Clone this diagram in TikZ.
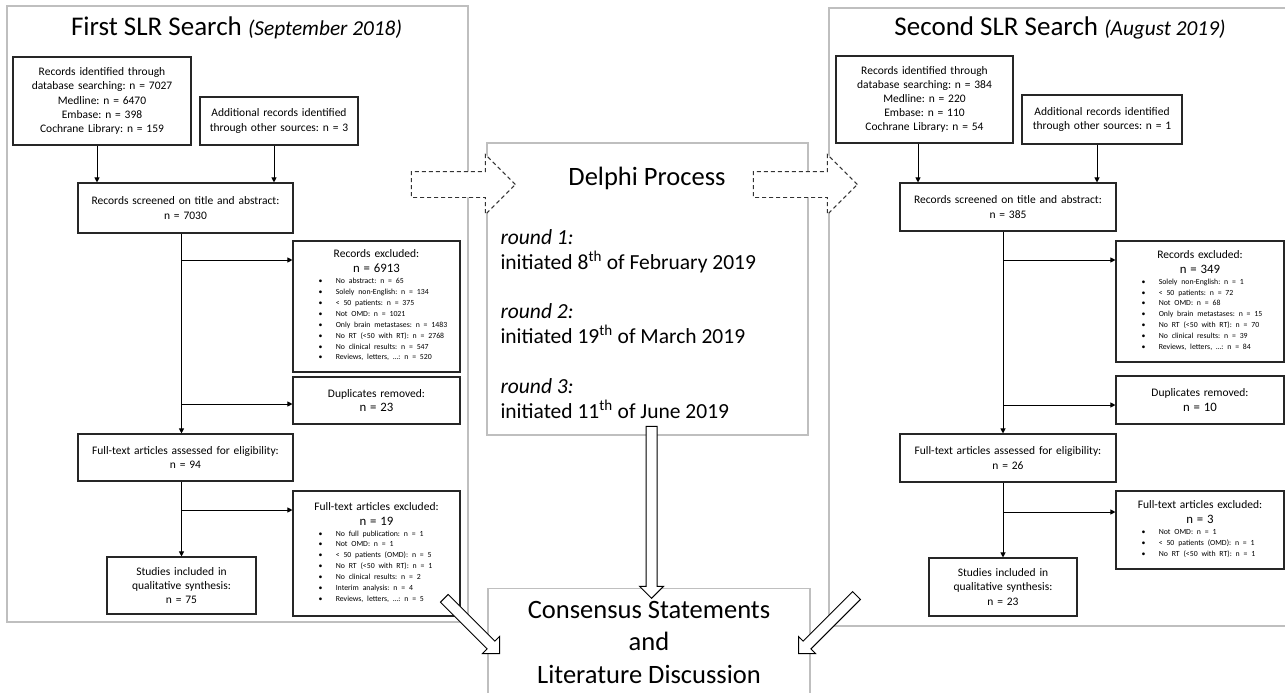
\documentclass[tikz,border=0pt]{standalone}
\usepackage{fontspec}
\setmainfont{Carlito}
\usetikzlibrary{arrows.meta,shapes.arrows}
\frenchspacing

% Font sizes
\newcommand{\boxfont}{\fontsize{11.5}{14.2}\selectfont}
\newcommand{\nfont}{\fontsize{12.8}{15}\selectfont}
\newcommand{\listfont}{\fontsize{7.8}{10.9}\selectfont}
\newcommand{\titlefont}{\fontsize{27}{30}\selectfont}
\newcommand{\datefont}{\fontsize{21.3}{25}\selectfont}
\newcommand{\bigfont}{\fontsize{26.5}{32.5}\selectfont}
\newcommand{\roundfont}{\fontsize{21.5}{25}\selectfont}

% Bullet list for the exclusion boxes
\newcommand{\exlist}[1]{\makebox[\linewidth][l]{\hspace{25.5pt}\listfont
  \begin{tabular}{@{}l@{\hspace{13.4pt}}l@{}}#1\end{tabular}}}
\newcommand{\exitem}[1]{\textbullet & #1\\}

\begin{document}
\begin{tikzpicture}[x=1pt, y=-1pt,
    box/.style={draw=black!85, line width=1.1pt, align=center, inner xsep=0pt, inner ysep=2pt, font=\boxfont},
    greybox/.style={draw=black!25, line width=1.2pt},
    flow/.style={-{Triangle[length=5pt,width=5pt]}, line width=1pt},
    blockarrow/.style={single arrow, draw=black, fill=white, line width=1pt, inner xsep=0pt, inner ysep=5pt,
      single arrow head extend=6.5pt, minimum height=#1},
    dasharrow/.style={single arrow, draw=black!80, dash pattern=on 4pt off 3pt, fill=white,
      line width=0.9pt, inner xsep=0pt, inner ysep=12.5pt, single arrow head extend=17pt,
      minimum height=104pt}]
    \useasboundingbox[fill=white] (0,0) rectangle (1285,693);

    % Panels
    \draw[greybox] (7,6) rectangle (468,622);
    \draw[greybox] (1300,8) -- (829,8) -- (829,626) -- (1300,626);
    \node[greybox, minimum width=321pt, minimum height=292pt] (delphi) at (647.5,289) {};
    \node[greybox, minimum width=322pt, minimum height=130pt, anchor=north] (cons) at (649,588) {};

    % First search
    \node[anchor=base, font=\titlefont] (title1) at (236.5,36) {First SLR Search \textit{\datefont(September 2018)}};
    \node[box, text width=178pt, minimum height=88pt] (b1) at (102,101)
        {Records identified through\\database searching: n = 7027\\Medline: n = 6470\\Embase: n = 398\\Cochrane Library: n = 159};
    \node[box, text width=158pt, minimum height=48pt] (b2) at (279,121)
        {Additional records identified\\through other sources: n = 3};
    \node[box, text width=215pt, minimum height=50pt] (b3) at (185.5,208)
        {Records screened on title and abstract:\\n = 7030};
    \node[box, text width=167pt, minimum height=131pt] (ex1) at (376.5,306.5)
        {Records excluded:\\[1pt]{\nfont n = 6913}\\[2pt]
         \exlist{\exitem{No abstract: n = 65}\exitem{Solely non-English: n = 134}\exitem{< 50 patients: n = 375}
         \exitem{Not OMD: n = 1021}\exitem{Only brain metastases: n = 1483}\exitem{No RT (<50 with RT): n = 2768}
         \exitem{No clinical results: n = 547}\exitem{Reviews, letters, …: n = 520}}};
    \node[box, text width=167pt, minimum height=47pt] (dup1) at (376.5,400.5)
        {Duplicates removed:\\{\nfont n = 23}};
    \node[box, text width=215pt, minimum height=47pt] (ft1) at (185.5,457.5)
        {Full-text articles assessed for eligibility:\\n = 94};
    \node[box, text width=167pt, minimum height=125pt] (fx1) at (376.5,553.5)
        {Full-text articles excluded:\\[1pt]{\nfont n = 19}\\[2pt]
         \exlist{\exitem{No full publication: n = 1}\exitem{Not OMD: n = 1}\exitem{< 50 patients (OMD): n = 5}
         \exitem{No RT (<50 with RT): n = 1}\exitem{No clinical results: n = 2}\exitem{Interim analysis: n = 4}
         \exitem{Reviews, letters, …: n = 5}}};
    \node[box, text width=149pt, minimum height=57pt] (inc1) at (181.5,585.5)
        {Studies included in\\qualitative synthesis:\\n = 75};

    \coordinate (e1) at (181.5,260);
    \coordinate (e2) at (181.5,404);
    \coordinate (e3) at (181.5,510);
    \draw[flow] ([xshift=-5pt]b1.south) -- ([xshift=-5pt]b1.south |- b3.north);
    \draw[flow] ([xshift=-5pt]b2.south) -- ([xshift=-5pt]b2.south |- b3.north);
    \draw[flow] (b3.south -| inc1.north) -- (ft1.north -| inc1.north);
    \draw[flow] (ft1.south -| inc1.north) -- (inc1.north);
    \draw[flow] (e1) -- (e1 -| ex1.west);
    \draw[flow] (e2) -- (e2 -| dup1.west);
    \draw[flow] (e3) -- (e3 -| fx1.west);

    % Second search
    \node[anchor=base, font=\titlefont] (title2) at (1060,36) {Second SLR Search \textit{\datefont(August 2019)}};
    \node[box, text width=177pt, minimum height=87pt] (rb1) at (924.5,99.5)
        {Records identified through\\database searching: n = 384\\Medline: n = 220\\Embase: n = 110\\Cochrane Library: n = 54};
    \node[box, text width=160pt, minimum height=49pt] (rb2) at (1102,119.5)
        {Additional records identified\\through other sources: n = 1};
    \node[box, text width=216pt, minimum height=48pt] (rb3) at (1008,207)
        {Records screened on title and abstract:\\n = 385};
    \node[box, text width=168pt, minimum height=121pt] (rex) at (1200,301.5)
        {Records excluded:\\[1pt]{\nfont n = 349}\\[2pt]
         \exlist{\exitem{Solely non-English: n = 1}\exitem{< 50 patients: n = 72}\exitem{Not OMD: n = 68}
         \exitem{Only brain metastases: n = 15}\exitem{No RT (<50 with RT): n = 70}
         \exitem{No clinical results: n = 39}\exitem{Reviews, letters, …: n = 84}}};
    \node[box, text width=168pt, minimum height=48pt] (rdup) at (1200,400)
        {Duplicates removed:\\{\nfont n = 10}};
    \node[box, text width=216pt, minimum height=48pt] (rft) at (1008,458)
        {Full-text articles assessed for eligibility:\\n = 26};
    \node[box, text width=168pt, minimum height=78pt] (rfx) at (1200,530)
        {Full-text articles excluded:\\[1pt]{\nfont n = 3}\\[2pt]
         \exlist{\exitem{Not OMD: n = 1}\exitem{< 50 patients (OMD): n = 1}\exitem{No RT (<50 with RT): n = 1}}};
    \node[box, text width=148pt, minimum height=58pt] (rinc) at (1003,587)
        {Studies included in\\qualitative synthesis:\\n = 23};

    \coordinate (f1) at (1003,260);
    \coordinate (f2) at (1003,405);
    \coordinate (f3) at (1003,512);
    \draw[flow] ([xshift=-6.5pt]rb1.south) -- ([xshift=-6.5pt]rb1.south |- rb3.north);
    \draw[flow] ([xshift=-5pt]rb2.south) -- ([xshift=-5pt]rb2.south |- rb3.north);
    \draw[flow] (rb3.south -| rinc.north) -- (rft.north -| rinc.north);
    \draw[flow] (rft.south -| rinc.north) -- (rinc.north);
    \draw[flow] (f1) -- (f1 -| rex.west);
    \draw[flow] (f2) -- (f2 -| rdup.west);
    \draw[flow] (f3) -- (f3 -| rfx.west);

    % Delphi process (base anchor = last line)
    \node[anchor=base, font=\bigfont] (delphiTitle) at (647,185) {Delphi Process};
    \node[anchor=base west, align=left, font=\roundfont] (round1) at (497,269)
        {\textit{round 1:}\\initiated 8\textsuperscript{th} of February 2019};
    \node[anchor=base west, align=left, font=\roundfont] (round2) at (497,343)
        {\textit{round 2:}\\initiated 19\textsuperscript{th} of March 2019};
    \node[anchor=base west, align=left, font=\roundfont] (round3) at (497,418)
        {\textit{round 3:}\\initiated 11\textsuperscript{th} of June 2019};
    \node[anchor=base, align=center, font=\bigfont] (consText) at (649,683)
        {Consensus Statements\\and\\Literature Discussion};

    % Block arrows
    \node[dasharrow, anchor=tip] (toDelphi) at (516,184.5) {};
    \node[dasharrow, anchor=tip] (fromDelphi) at (858,184.5) {};
    \node[blockarrow=172pt, rotate=-90, anchor=tip] (toCons) at (651.5,599) {};
    \node[blockarrow=78pt, rotate=-45, anchor=tip] (firstToCons) at (500,654) {};
    \node[blockarrow=82pt, rotate=-135, anchor=tip] (secondToCons) at (798,654) {};
\end{tikzpicture}
\end{document}
